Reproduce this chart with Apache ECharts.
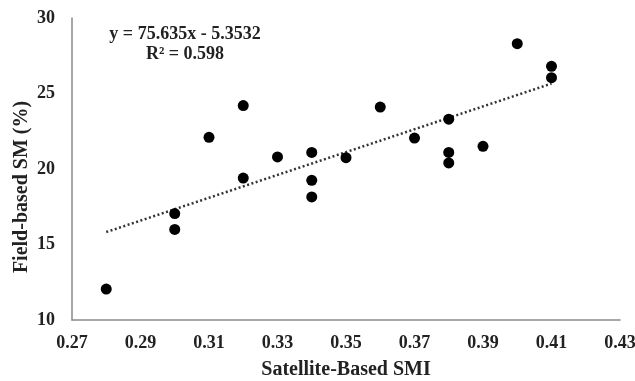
<!DOCTYPE html>
<html><head><meta charset="utf-8">
<script src="https://cdn.jsdelivr.net/npm/echarts@6/dist/echarts.min.js"></script>
<style>html,body{margin:0;padding:0;background:#fff}#c{width:635px;height:381px}</style>
</head><body><div id="c"></div>
<script>
const smi = [0.28,0.30,0.30,0.31,0.32,0.32,0.33,0.34,0.34,0.34,0.35,0.36,0.37,0.38,0.38,0.38,0.39,0.40,0.41,0.41];
const fieldSM = [12.05,17.05,16.0,22.1,24.2,19.4,20.8,21.1,19.25,18.15,20.75,24.1,22.05,23.3,21.1,20.4,21.5,28.3,26.8,26.05];
const slope = 75.635, intercept = -5.3532;
const trendX = [0.28, 0.41];
const eqText = ['y = 75.635x - 5.3532', 'R² = 0.598'];
const xName = 'Satellite-Based SMI', yName = 'Field-based SM (%)';

const font = '"Liberation Serif", "Times New Roman", serif';
const chart = echarts.init(document.getElementById('c'));
chart.setOption({
  animation: false,
  grid: {left: 72, right: 15, top: 18, bottom: 61, containLabel: false, outerBoundsMode: 'none'},
  xAxis: {
    type: 'value', min: 0.27, max: 0.43, interval: 0.02,
    name: xName, nameLocation: 'middle', nameGap: 40, nameMoveOverlap: false,
    nameTextStyle: {fontFamily: font, fontWeight: 'bold', fontSize: 20, color: '#222'},
    axisLine: {lineStyle: {color: '#8a8a8a', width: 1.5}},
    axisTick: {show: false}, splitLine: {show: false},
    axisLabel: {fontFamily: font, fontWeight: 'bold', fontSize: 18, color: '#222', margin: 14,
      formatter: v => v.toFixed(2)}
  },
  yAxis: {
    type: 'value', min: 10, max: 30, interval: 5,
    name: yName, nameLocation: 'middle', nameGap: 40, nameMoveOverlap: false,
    nameTextStyle: {fontFamily: font, fontWeight: 'bold', fontSize: 20, color: '#222', padding: [0, 36, 0, 0]},
    axisLine: {show: true, lineStyle: {color: '#8a8a8a', width: 1.5}},
    axisTick: {show: false}, splitLine: {show: false},
    axisLabel: {fontFamily: font, fontWeight: 'bold', fontSize: 18, color: '#222', margin: 17}
  },
  series: [
    {type: 'scatter', data: smi.map((x, i) => [x, fieldSM[i]]), symbolSize: 11,
     itemStyle: {color: '#000', opacity: 1}, z: 3},
    {type: 'line', data: trendX.map(x => [x, slope * x + intercept]), symbol: 'none',
     lineStyle: {color: '#333', width: 2.5, type: [2, 2.5]}, z: 2}
  ],
  graphic: [
    {type: 'text', x: 185, y: 24,
     style: {text: eqText.join('\n'), fontFamily: font, fontWeight: 'bold', fontSize: 18,
       fill: '#222', align: 'center', lineHeight: 20}}
  ]
});
</script></body></html>
